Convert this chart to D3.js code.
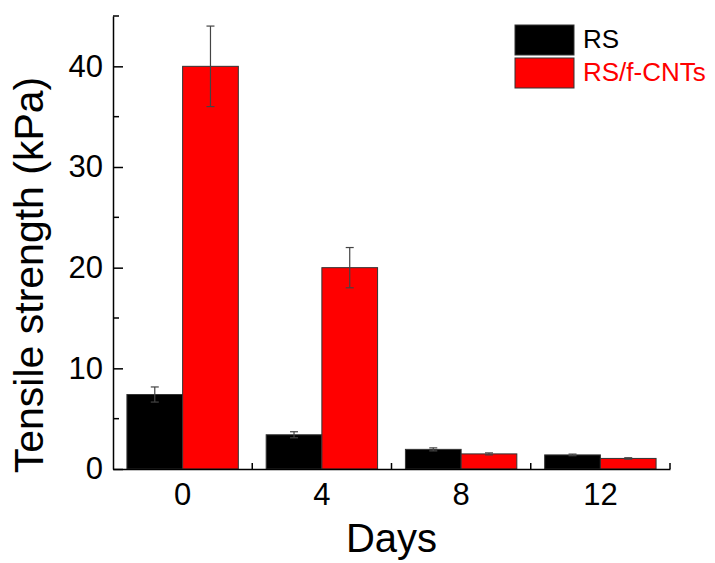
<!DOCTYPE html>
<html>
<head>
<meta charset="utf-8">
<script src="https://cdn.jsdelivr.net/npm/d3@7"></script>
<style>
  body { margin: 0; background: #fff; }
  text { font-family: Arial, "Liberation Sans", sans-serif; }
</style>
</head>
<body>
<div id="canvas"></div>
<script>
var days = ['0', '4', '8', '12'];
var series = ['RS', 'RS/f-CNTs'];
var rsMean = [7.4, 3.4, 1.95, 1.4];
var rsErr = [0.75, 0.3, 0.15, 0.08];
var cntMean = [40, 20, 1.5, 1.05];
var cntErr = [4, 2, 0.1, 0.07];
var yTicks = [0, 10, 20, 30, 40];
var colors = ['#000000', '#ff0000'];

var W = 715, H = 563;
var m = {t: 16, r: 45, b: 94, l: 113},
    w = W - m.l - m.r,
    h = H - m.t - m.b;

var svg = d3.select('#canvas').append('svg')
    .attr('width', W).attr('height', H);

var plot = svg.append('g')
    .attr('transform', 'translate(' + m.l + ',' + m.t + ')');

var x0 = d3.scaleBand().domain(days).range([0, w]).padding(0);
var x1 = d3.scaleBand().domain(series)
    .range([x0.bandwidth() * 0.1, x0.bandwidth() * 0.9]).padding(0);
var y = d3.scaleLinear().domain([0, 45]).range([h, 0]);

var data = days.map(function(d, i) {
    return [
        {day: d, s: series[0], v: rsMean[i], e: rsErr[i], c: colors[0]},
        {day: d, s: series[1], v: cntMean[i], e: cntErr[i], c: colors[1]}
    ];
});

// bars
var groups = plot.selectAll('.grp').data(data).enter().append('g')
    .attr('transform', function(d) { return 'translate(' + x0(d[0].day) + ',0)'; });

groups.selectAll('rect').data(function(d) { return d; }).enter().append('rect')
    .attr('x', function(d) { return x1(d.s); })
    .attr('y', function(d) { return y(d.v); })
    .attr('width', x1.bandwidth())
    .attr('height', function(d) { return h - y(d.v); })
    .attr('fill', function(d) { return d.c; })
    .attr('stroke', '#333').attr('stroke-width', 1);

// error bars
var eb = groups.selectAll('.eb').data(function(d) { return d; }).enter().append('g')
    .attr('stroke', '#444').attr('stroke-width', 1.2);
eb.append('line')
    .attr('x1', function(d) { return x1(d.s) + x1.bandwidth() / 2; })
    .attr('x2', function(d) { return x1(d.s) + x1.bandwidth() / 2; })
    .attr('y1', function(d) { return y(d.v - d.e); })
    .attr('y2', function(d) { return y(d.v + d.e); });
[1, -1].forEach(function(sg) {
    eb.append('line')
        .attr('x1', function(d) { return x1(d.s) + x1.bandwidth() / 2 - 4; })
        .attr('x2', function(d) { return x1(d.s) + x1.bandwidth() / 2 + 4; })
        .attr('y1', function(d) { return y(d.v + sg * d.e); })
        .attr('y2', function(d) { return y(d.v + sg * d.e); });
});

// y axis
var yAxis = d3.axisLeft(y).tickValues(yTicks).tickSizeInner(-10).tickSizeOuter(0).tickPadding(10);
var gy = plot.append('g').call(yAxis);
gy.selectAll('text').style('font-size', '31px').attr('fill', '#000');
gy.select('.domain').attr('stroke-width', 1.5);
gy.selectAll('.tick line').attr('stroke-width', 1.5);
gy.selectAll('.minor').data(d3.range(5, 50, 10)).enter().append('line')
    .attr('x1', 0).attr('x2', 6)
    .attr('y1', function(d) { return y(d); }).attr('y2', function(d) { return y(d); })
    .attr('stroke', '#000').attr('stroke-width', 1.5);

// x axis
var xAxis = d3.axisBottom(x0).tickSize(0).tickPadding(14);
var gx = plot.append('g').attr('transform', 'translate(0,' + h + ')').call(xAxis);
gx.selectAll('text').style('font-size', '31px').attr('fill', '#000');
gx.select('.domain').attr('stroke-width', 1.5);
gx.selectAll('.bnd').data(days.slice(1).concat(['end'])).enter().append('line')
    .attr('x1', function(d, i) { return x0.step() * (i + 1); })
    .attr('x2', function(d, i) { return x0.step() * (i + 1); })
    .attr('y1', 0).attr('y2', -6)
    .attr('stroke', '#000').attr('stroke-width', 1.5);

// axis titles
svg.append('text')
    .attr('x', m.l + w / 2).attr('y', 552)
    .attr('text-anchor', 'middle')
    .style('font-size', '40px')
    .text('Days');
svg.append('text')
    .attr('transform', 'translate(43,275) rotate(-90)')
    .attr('text-anchor', 'middle')
    .style('font-size', '41px')
    .text('Tensile strength (kPa)');

// legend
var leg = svg.append('g').attr('transform', 'translate(515,25)');
var li = leg.selectAll('g').data(series).enter().append('g')
    .attr('transform', function(d, i) { return 'translate(0,' + i * 33 + ')'; });
li.append('rect').attr('width', 59).attr('height', 30)
    .attr('fill', function(d, i) { return colors[i]; })
    .attr('stroke', '#333').attr('stroke-width', 1);
li.append('text').attr('x', 68).attr('y', 23)
    .style('font-size', '26px')
    .attr('fill', function(d, i) { return colors[i]; })
    .text(function(d) { return d; });
</script>
</body>
</html>
